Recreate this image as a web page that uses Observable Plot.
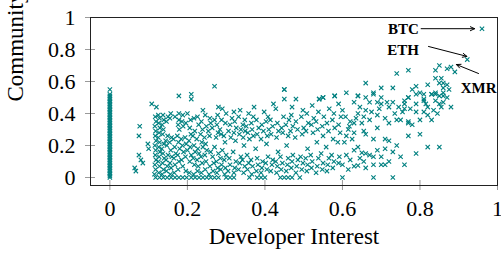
<!DOCTYPE html>
<html>
<head>
<meta charset="utf-8">
<script src="https://cdn.jsdelivr.net/npm/d3@7"></script>
<script src="https://cdn.jsdelivr.net/npm/@observablehq/plot@0.6"></script>
<style>
  html, body { margin: 0; padding: 0; background: white; }
  svg { display: block; }
</style>
</head>
<body>
<script>
// Tick values
const xTicks = [0, 0.2, 0.4, 0.6, 0.8, 1];
const yTicks = [0, 0.2, 0.4, 0.6, 0.8, 1];

// Projects with zero developer interest (community interest values)
const zeroDevCommunity = [0, 0.01, 0.02, 0.03, 0.04, 0.05, 0.06, 0.07, 0.08, 0.09, 0.10, 0.11, 0.12, 0.13, 0.14, 0.15,
  0.16, 0.17, 0.18, 0.19, 0.20, 0.21, 0.22, 0.23, 0.24, 0.25, 0.26, 0.27, 0.28, 0.29, 0.30, 0.31, 0.32, 0.33,
  0.34, 0.35, 0.36, 0.37, 0.38, 0.39, 0.40, 0.41, 0.42, 0.43, 0.44, 0.45, 0.46, 0.47, 0.48, 0.49, 0.50, 0.51, 0.52, 0.55];

// Projects with zero community interest (developer interest values)
const zeroCommDev = [0.118, 0.128, 0.138, 0.148, 0.158, 0.168, 0.178, 0.188, 0.198, 0.21, 0.22, 0.23, 0.24, 0.25,
  0.26, 0.27, 0.28, 0.30, 0.31, 0.32, 0.36, 0.38, 0.39, 0.40, 0.44, 0.45, 0.46, 0.47, 0.49, 0.60, 0.68, 0.73];

// Sparse projects left of main cluster [developer, community]
const sparsePoints = [[0.067,0.04],[0.064,0.06],[0.075,0.14],[0.08,0.11],[0.085,0.09],[0.075,0.26],[0.077,0.32],
  [0.098,0.21],[0.10,0.18],[0.108,0.46],[0.12,0.44],[0.178,0.51],[0.21,0.52],[0.21,0.49],[0.27,0.57]];

// Main dense cluster [developer, community]
const clusterLeft = [
  [0.115,0.02],[0.118,0.05],[0.116,0.08],[0.119,0.11],[0.117,0.14],[0.118,0.17],[0.116,0.2],[0.119,0.23],[0.117,0.26],[0.118,0.29],[0.116,0.32],[0.119,0.35],[0.117,0.38],
  [0.126,0.03],[0.128,0.07],[0.125,0.1],[0.127,0.13],[0.129,0.16],[0.126,0.19],[0.128,0.22],[0.125,0.25],[0.127,0.28],[0.129,0.31],[0.126,0.34],[0.128,0.37],[0.125,0.39],
  [0.135,0.02],[0.138,0.05],[0.136,0.09],[0.14,0.12],[0.137,0.15],[0.134,0.18],[0.139,0.21],[0.136,0.27],[0.138,0.3],[0.135,0.33],[0.139,0.36],[0.137,0.39],
  [0.146,0.04],[0.148,0.07],[0.145,0.11],[0.15,0.14],[0.147,0.2],[0.144,0.23],[0.149,0.26],[0.146,0.35],[0.15,0.38],
  [0.156,0.02],[0.158,0.06],[0.155,0.09],[0.16,0.13],[0.157,0.17],[0.154,0.22],[0.159,0.25],[0.155,0.37],[0.157,0.4],
  [0.166,0.03],[0.168,0.08],[0.165,0.12],[0.17,0.15],[0.167,0.19],[0.164,0.24],[0.168,0.38],
  [0.176,0.05],[0.178,0.1],[0.175,0.14],[0.18,0.18],[0.177,0.22],[0.174,0.26],[0.179,0.3],[0.176,0.33],[0.178,0.36],[0.178,0.4],
  [0.188,0.07],[0.185,0.11],[0.19,0.16],[0.187,0.2],[0.184,0.24],[0.189,0.32],[0.186,0.35],[0.188,0.39],
  [0.196,0.04],[0.195,0.13],[0.2,0.17],[0.197,0.21],[0.194,0.25],[0.196,0.34],[0.2,0.4]];

const clusterMid = [
  [0.205,0.03],[0.206,0.1],[0.21,0.14],[0.207,0.19],[0.204,0.23],[0.209,0.27],[0.206,0.31],[0.208,0.36],
  [0.216,0.02],[0.218,0.08],[0.215,0.12],[0.22,0.16],[0.217,0.2],[0.214,0.26],[0.219,0.29],[0.217,0.37],
  [0.226,0.04],[0.228,0.07],[0.225,0.11],[0.23,0.15],[0.227,0.18],[0.224,0.24],[0.229,0.33],[0.226,0.38],
  [0.236,0.03],[0.238,0.09],[0.235,0.13],[0.24,0.19],[0.237,0.22],[0.234,0.27],[0.239,0.3],[0.24,0.42],[0.236,0.35],
  [0.246,0.05],[0.248,0.1],[0.245,0.14],[0.25,0.17],[0.247,0.21],[0.244,0.25],[0.249,0.32],[0.246,0.39],
  [0.256,0.02],[0.258,0.07],[0.26,0.16],[0.257,0.26],[0.254,0.29],[0.26,0.34],[0.258,0.37],
  [0.266,0.04],[0.268,0.09],[0.265,0.13],[0.27,0.19],[0.264,0.31],[0.27,0.36],
  [0.276,0.03],[0.278,0.06],[0.275,0.1],[0.28,0.15],[0.274,0.25],[0.279,0.28],[0.276,0.33],[0.28,0.44],[0.278,0.39],
  [0.286,0.05],[0.288,0.08],[0.285,0.12],[0.29,0.17],[0.287,0.27],[0.284,0.3],[0.29,0.43],[0.288,0.36],
  [0.296,0.02],[0.298,0.06],[0.295,0.11],[0.3,0.14],[0.297,0.22],[0.294,0.26],[0.3,0.4],[0.298,0.34]];

const clusterRight = [
  [0.305,0.04],[0.31,0.08],[0.308,0.12],[0.312,0.25],[0.306,0.29],[0.31,0.33],[0.315,0.37],
  [0.32,0.03],[0.322,0.06],[0.325,0.1],[0.318,0.16],[0.324,0.23],[0.32,0.28],[0.326,0.31],[0.322,0.35],[0.32,0.41],
  [0.332,0.05],[0.335,0.09],[0.338,0.13],[0.334,0.27],[0.338,0.3],[0.332,0.38],[0.336,0.42],
  [0.345,0.03],[0.348,0.07],[0.342,0.11],[0.346,0.2],[0.344,0.25],[0.349,0.29],[0.343,0.33],[0.348,0.36],
  [0.355,0.05],[0.358,0.09],[0.354,0.14],[0.36,0.24],[0.356,0.28],[0.352,0.32],[0.358,0.4],
  [0.366,0.02],[0.368,0.07],[0.364,0.11],[0.37,0.26],[0.367,0.3],[0.365,0.34],[0.37,0.38],[0.372,0.44],
  [0.378,0.04],[0.382,0.08],[0.38,0.12],[0.376,0.18],[0.38,0.27],[0.384,0.31],[0.378,0.36],
  [0.39,0.03],[0.392,0.06],[0.394,0.1],[0.39,0.24],[0.396,0.29],[0.392,0.33],[0.398,0.41],
  [0.405,0.05],[0.402,0.09],[0.408,0.13],[0.404,0.21],[0.406,0.26],[0.41,0.3],[0.403,0.35],[0.408,0.38],
  [0.415,0.04],[0.418,0.08],[0.42,0.11],[0.416,0.27],[0.42,0.32],[0.414,0.36],[0.422,0.46],
  [0.43,0.03],[0.432,0.07],[0.428,0.1],[0.434,0.16],[0.43,0.25],[0.435,0.29],[0.432,0.34],[0.428,0.43],
  [0.442,0.05],[0.445,0.09],[0.44,0.13],[0.446,0.28],[0.443,0.31],[0.448,0.38],[0.45,0.49],[0.45,0.55],
  [0.455,0.04],[0.458,0.08],[0.46,0.12],[0.456,0.2],[0.46,0.26],[0.454,0.33],[0.462,0.36],
  [0.468,0.06],[0.47,0.1],[0.472,0.14],[0.466,0.29],[0.472,0.32],[0.468,0.39],[0.47,0.44],
  [0.48,0.03],[0.482,0.07],[0.485,0.11],[0.478,0.25],[0.484,0.3],[0.48,0.35],[0.48,0.49],
  [0.495,0.05],[0.498,0.09],[0.492,0.13],[0.496,0.27],[0.5,0.31],[0.494,0.38],[0.498,0.42],
  [0.508,0.04],[0.51,0.08],[0.505,0.12],[0.51,0.18],[0.506,0.29],[0.512,0.34],[0.508,0.4],
  [0.52,0.06],[0.522,0.1],[0.518,0.14],[0.524,0.28],[0.52,0.33],[0.526,0.37],[0.522,0.45],
  [0.532,0.03],[0.535,0.07],[0.538,0.12],[0.534,0.22],[0.536,0.3],[0.532,0.35],[0.54,0.49],[0.538,0.41],
  [0.548,0.05],[0.55,0.09],[0.545,0.15],[0.55,0.26],[0.548,0.32],[0.552,0.38],[0.55,0.5],
  [0.56,0.04],[0.562,0.08],[0.565,0.12],[0.558,0.19],[0.564,0.29],[0.56,0.34],[0.566,0.43],
  [0.575,0.06],[0.578,0.1],[0.572,0.14],[0.576,0.24],[0.58,0.31],[0.574,0.36],[0.58,0.51],[0.578,0.4],
  [0.59,0.09],[0.592,0.13],[0.588,0.22],[0.594,0.28],[0.59,0.33],[0.596,0.38],[0.59,0.46]];

// Upper-right trend [developer, community]
const trendPoints = [
  [0.605,0.22],[0.61,0.26],[0.615,0.3],[0.62,0.35],[0.608,0.38],[0.625,0.24],[0.63,0.28],[0.618,0.32],[0.635,0.37],
  [0.6,0.42],[0.64,0.4],[0.645,0.44],[0.655,0.38],[0.66,0.42],[0.67,0.36],[0.675,0.41],[0.69,0.39],[0.695,0.43],
  [0.7,0.5],[0.715,0.47],[0.73,0.47],[0.735,0.4],[0.745,0.44],[0.755,0.41],[0.76,0.46],[0.62,0.11],[0.61,0.14],
  [0.6,0.08],[0.615,0.05],[0.645,0.12],[0.655,0.1],[0.68,0.13],[0.69,0.17],[0.74,0.2],[0.8,0.27],
  [0.64,0.51],[0.66,0.5],[0.68,0.52],[0.63,0.47],[0.67,0.47],[0.69,0.47],[0.70,0.46],[0.72,0.44],[0.76,0.48],
  [0.77,0.5],[0.79,0.52],[0.81,0.52],[0.83,0.52],[0.84,0.52],[0.86,0.51],[0.79,0.46],[0.81,0.48],[0.815,0.46],
  [0.82,0.44],[0.85,0.46],[0.88,0.44],[0.76,0.43],[0.775,0.43],[0.79,0.41],[0.81,0.41],[0.82,0.39],[0.80,0.36],
  [0.83,0.36],[0.75,0.36],[0.74,0.36],[0.77,0.35],[0.77,0.34],[0.78,0.33],[0.71,0.37],[0.72,0.34],[0.69,0.31],
  [0.63,0.34],[0.65,0.34],[0.655,0.29],[0.66,0.27],[0.68,0.24],[0.71,0.24],[0.72,0.23],[0.77,0.26],[0.82,0.19],
  [0.85,0.19],[0.71,0.18],[0.73,0.16],[0.79,0.15],[0.66,0.15],[0.65,0.155],[0.67,0.14],[0.64,0.19],[0.63,0.17],
  [0.70,0.13],[0.75,0.13],[0.72,0.10],[0.71,0.08],[0.70,0.08],[0.76,0.08],[0.68,0.08],[0.64,0.075],[0.63,0.07],[0.66,0.06],
  [0.74,0.65],[0.77,0.67],[0.84,0.67],[0.85,0.70],[0.87,0.68],[0.84,0.62],[0.66,0.59],[0.68,0.53],[0.70,0.56],
  [0.73,0.56],[0.78,0.55],[0.79,0.57],[0.80,0.53],[0.82,0.58],[0.83,0.52],[0.84,0.53],[0.85,0.59],[0.86,0.59],
  [0.86,0.56],[0.86,0.53],[0.85,0.51],[0.77,0.5],[0.81,0.49],[0.61,0.53],[0.58,0.51],[0.55,0.5],[0.54,0.49],
  [0.64,0.51],[0.45,0.55],[0.835,0.42],[0.845,0.4],[0.855,0.44],[0.84,0.48],[0.86,0.47],[0.87,0.5],[0.875,0.55],
  [0.87,0.58],[0.855,0.62],[0.89,0.66]];

// Highlighted coins
const coins = ["BTC", "ETH", "XMR"];
const coinDev = [0.96, 0.922, 0.88];
const coinComm = [0.93, 0.737, 0.69];
// Annotation label anchors and arrow ends (data units)
const labelDev = [0.797, 0.797, 0.905];
const labelComm = [0.93, 0.795, 0.556];
const labelAnchor = ["end", "end", "start"];
const arrowFromDev = [0.803, 0.822, 0.951];
const arrowFromComm = [0.93, 0.819, 0.65];
const arrowToDev = [0.941, 0.921, 0.894];
const arrowToComm = [0.93, 0.757, 0.706];

const teal = "#008080";
const pts = [
  ...zeroDevCommunity.map(c => [0, c]),
  ...zeroCommDev.map(d => [d, 0]),
  ...sparsePoints, ...clusterLeft, ...clusterMid, ...clusterRight, ...trendPoints,
  ...coinDev.map((d, i) => [d, coinComm[i]])
];
const ann = coins.map((c, i) => ({
  name: c, lx: labelDev[i], ly: labelComm[i], anchor: labelAnchor[i],
  x1: arrowFromDev[i], y1: arrowFromComm[i], x2: arrowToDev[i], y2: arrowToComm[i]
}));

const chart = Plot.plot({
  width: 501,
  height: 257,
  marginLeft: 90,
  marginRight: 4,
  marginTop: 17,
  marginBottom: 72,
  x: {domain: [-0.05, 1]},
  y: {domain: [-0.05, 1]},
  style: {fontFamily: "Liberation Serif", background: "white", color: "black"},
  marks: [
    Plot.axisX(xTicks, {tickSize: 10, dy: -5, tickFormat: () => "", stroke: "#9a9a9a", label: null}),
    Plot.axisY(yTicks, {tickSize: 10, dx: 5, tickFormat: () => "", stroke: "#9a9a9a", label: null}),
    Plot.axisX(xTicks, {tickSize: 0, tickPadding: 15, fontSize: 22, label: null, tickFormat: d => String(d)}),
    Plot.axisY(yTicks, {tickSize: 0, tickPadding: 15, fontSize: 22, label: null, tickFormat: d => String(d)}),
    Plot.dot(pts, {x: d => d[0], y: d => d[1], symbol: "times", r: 2.1, stroke: teal, strokeWidth: 1.1}),
    Plot.frame({stroke: "#222", strokeWidth: 1}),
    Plot.arrow(ann, {x1: "x1", y1: "y1", x2: "x2", y2: "y2", stroke: "black", strokeWidth: 1, headLength: 7, headAngle: 50}),
    Plot.text(ann.filter(a => a.anchor === "end"), {x: "lx", y: "ly", text: "name", textAnchor: "end", fontSize: 15, fontWeight: "bold", fill: "black"}),
    Plot.text(ann.filter(a => a.anchor === "start"), {x: "lx", y: "ly", text: "name", textAnchor: "start", fontSize: 15, fontWeight: "bold", fill: "black"}),
    Plot.text(["Developer Interest"], {text: d => d, frameAnchor: "bottom", dy: 58, fontSize: 23, fill: "black"}),
    Plot.text(["Community Interest"], {text: d => d, frameAnchor: "left", dx: -75, rotate: -90, fontSize: 23, fill: "black"})
  ]
});
document.body.appendChild(chart);
</script>
</body>
</html>
